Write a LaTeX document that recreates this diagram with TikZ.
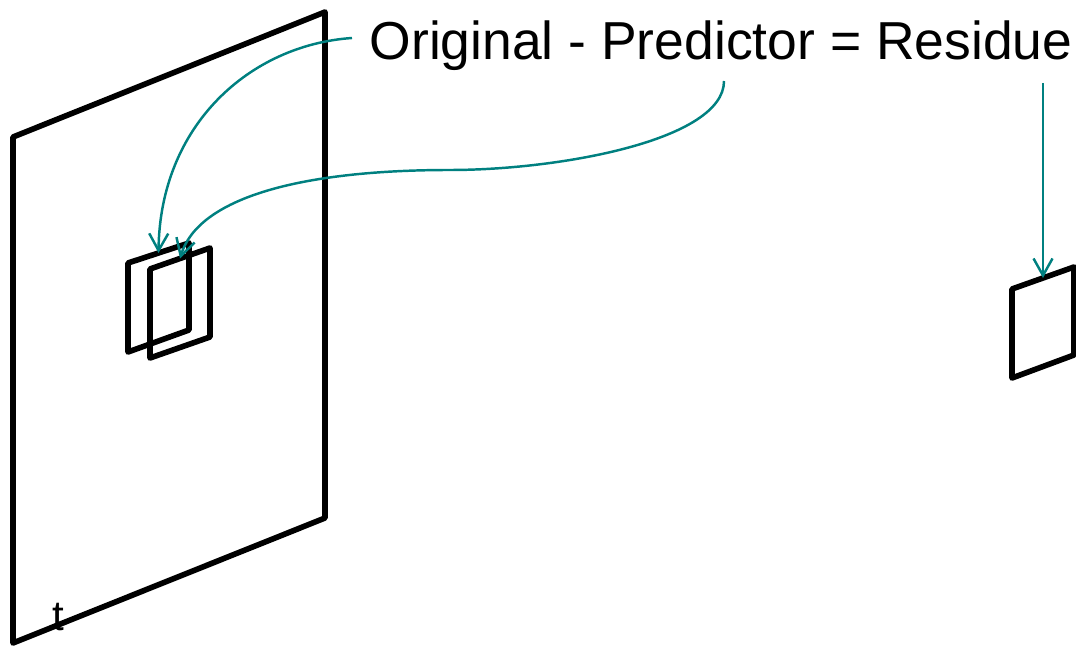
\documentclass[tikz,border=0pt]{standalone}
\usepackage{fontspec}
\setmainfont{Liberation Sans}
\usepackage{tikz}
\usetikzlibrary{arrows.meta, positioning, calc}
\definecolor{linkteal}{RGB}{0,128,128}

\begin{document}
\begin{tikzpicture}[x=0.01cm, y=-0.01cm,
    frame/.style={draw, line width=1.6pt, line join=round},
    link/.style={draw=linkteal, line width=0.7pt, -{Straight Barb[length=1.7mm, width=1.9mm]}}]
      \useasboundingbox (0,0) rectangle (1076,646);

      % frame at time t
      \coordinate (f1) at (13,137);
      \coordinate (f2) at (325,12);
      \coordinate (f3) at (325,518);
      \coordinate (f4) at (13,643);
      \draw[frame] (f1) -- (f2) -- (f3) -- (f4) -- cycle;
      \node[anchor=base, inner sep=0pt, font=\fontsize{12}{14}\selectfont] (tlabel) at (58,630) {t};

      % original block and predictor block
      \coordinate (o1) at (128,263);
      \coordinate (o2) at (189,243);
      \coordinate (o3) at (189,330);
      \coordinate (o4) at (128,352);
      \draw[frame] (o1) -- (o2) -- (o3) -- (o4) -- cycle;
      \coordinate (p1) at (150,269);
      \coordinate (p2) at (210,248);
      \coordinate (p3) at (210,337);
      \coordinate (p4) at (150,358);
      \draw[frame] (p1) -- (p2) -- (p3) -- (p4) -- cycle;

      % residue block
      \coordinate (r1) at (1012,289);
      \coordinate (r2) at (1074,267);
      \coordinate (r3) at (1074,355);
      \coordinate (r4) at (1012,378);
      \draw[frame] (r1) -- (r2) -- (r3) -- (r4) -- cycle;

      % equation
      \node[anchor=base west, inner sep=0pt, font=\fontsize{15.2}{18}\selectfont] (eqn) at (369,60) {Original - Predictor = Residue};
      \coordinate (orig) at (352,38);
      \coordinate (pred) at (724,81);
      \coordinate (res) at (1043,83);

      \draw[link] (orig) .. controls (250,45) and (160,125) .. ($(o1)!0.5!(o2)$);
      \draw[link] (pred) .. controls (724,140) and (560,170) .. (450,170)
                         .. controls (300,170) and (198,198) .. ($(p1)!0.5!(p2)$);
      \draw[link] (res) -- ($(r1)!0.5!(r2)$);
    \end{tikzpicture}
\end{document}
